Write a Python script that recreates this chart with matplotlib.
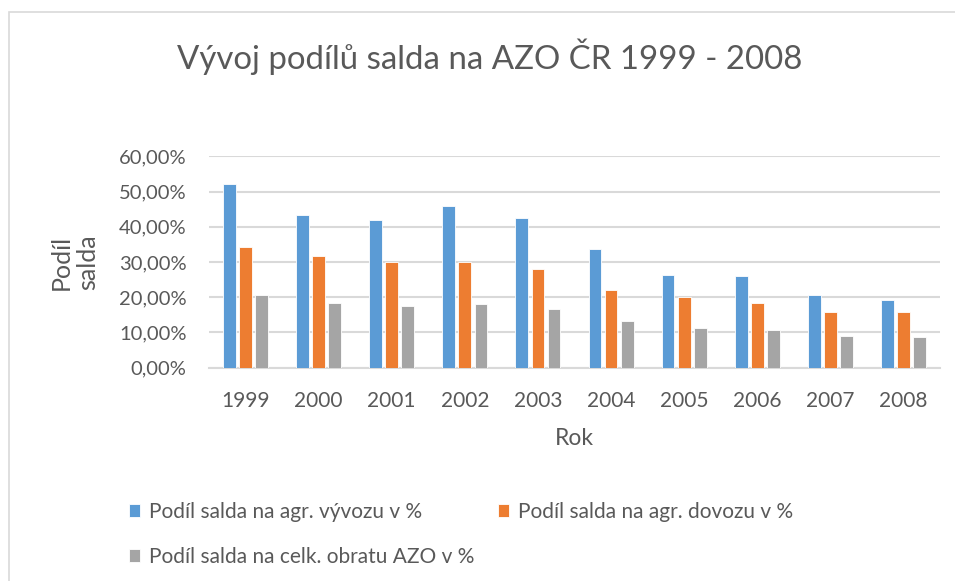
import numpy as np
import matplotlib.pyplot as plt
from matplotlib.patches import Rectangle

plt.rcParams['font.family'] = ['Lato', 'DejaVu Sans']

years = ["1999", "2000", "2001", "2002", "2003", "2004", "2005", "2006", "2007", "2008"]
vyvoz = [52.1, 43.3, 41.8, 45.8, 42.4, 33.6, 26.3, 26.1, 20.7, 19.2]
dovoz = [34.2, 31.8, 29.9, 30.0, 27.9, 22.0, 20.0, 18.3, 15.9, 15.8]
obrat = [20.5, 18.3, 17.4, 18.1, 16.8, 13.2, 11.3, 10.7, 8.9, 8.6]

labels = ["Podíl salda na agr. vývozu v %",
          "Podíl salda na agr. dovozu v %",
          "Podíl salda na celk. obratu AZO v %"]
colors = ["#5b9bd5", "#ed7d31", "#a5a5a5"]
text_col = "#595959"
grid_col = "#d9d9d9"

fig = plt.figure(figsize=(9.55, 5.81), dpi=100)
ax = fig.add_axes([0.2188, 0.3671, 0.7655, 0.3639])

# chart border (only top/left visible in the reference)
fig.patches.append(Rectangle((8.5 / 955, -0.1), 1.2, 1 - 12.5 / 581 + 0.1,
                             transform=fig.transFigure, fill=False,
                             edgecolor=grid_col, lw=1.2))

x = np.arange(len(years))
w = 0.175
step = 0.22
bars = []
for i, (vals, c) in enumerate(zip([vyvoz, dovoz, obrat], colors)):
    b = ax.bar(x + (i - 1) * step, vals, w, color=c, edgecolor="white",
               linewidth=0.6, zorder=3, label=labels[i])
    bars.append(b)

ax.set_xlim(-0.5, len(years) - 0.5)
ax.set_ylim(0, 60)
ax.set_yticks(np.arange(0, 61, 10))
ax.set_yticklabels([f"{v},00%" for v in range(0, 61, 10)])
ax.set_xticks(x)
ax.set_xticklabels(years)
ax.yaxis.grid(True, color=grid_col, lw=1.5, zorder=0)
for s in ["top", "right", "left"]:
    ax.spines[s].set_visible(False)
ax.spines["bottom"].set_color(grid_col)
ax.spines["bottom"].set_linewidth(1.5)
ax.tick_params(axis="both", length=0, colors=text_col)
ax.tick_params(axis="x", pad=17, labelsize=15)
ax.tick_params(axis="y", pad=16, labelsize=14.5)

ax.set_xlabel("Rok", fontsize=16.5, color=text_col, labelpad=12)
ax.set_ylabel("Podíl\nsalda", fontsize=18, color=text_col, labelpad=14,
              linespacing=1.2)

fig.text(490 / 955, 1 - 57 / 581, "Vývoj podílů salda na AZO ČR 1999 - 2008",
         ha="center", va="center", fontsize=23.8, color=text_col)

leg = fig.legend([bars[0], bars[2], bars[1]], [labels[0], labels[2], labels[1]],
                 ncol=2, loc="upper left", bbox_to_anchor=(110 / 955, 1 - 483 / 581),
                 frameon=False, fontsize=15, handlelength=0.55, handleheight=0.55,
                 handletextpad=0.4, columnspacing=1.15, labelspacing=1.2,
                 labelcolor=text_col)

fig.savefig("out.png", dpi=100)
